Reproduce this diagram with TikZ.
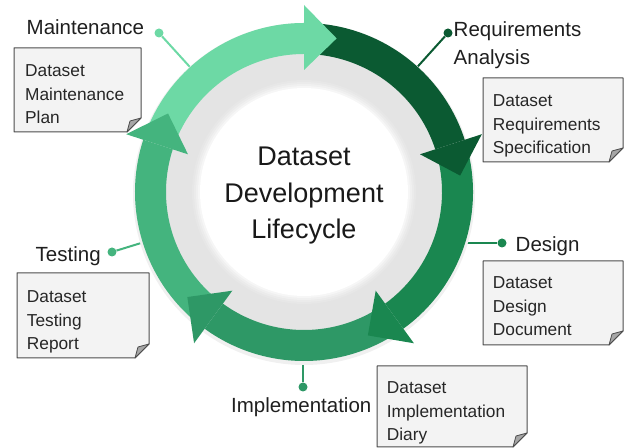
\documentclass[tikz,border=0pt]{standalone}
\usepackage{fontspec}
\setmainfont{Liberation Sans}
\usepackage{xcolor}
\usepackage{tikz}

\definecolor{maintgreen}{RGB}{109,217,165}
\definecolor{reqgreen}{RGB}{11,90,50}
\definecolor{desgreen}{RGB}{26,135,80}
\definecolor{implgreen}{RGB}{46,152,102}
\definecolor{testgreen}{RGB}{68,180,126}
\definecolor{ringgray}{RGB}{228,228,228}
\definecolor{pagegray}{RGB}{243,243,243}

\tikzset{
	dot/.style={circle,inner sep=0pt,minimum size=9bp},
	phase/.style={inner sep=0pt,align=left,text=black!88,font=\fontsize{20.5bp}{28bp}\selectfont},
	doctext/.style={inner sep=0pt,anchor=north west,align=left,text=black!85,font=\fontsize{17.3bp}{23.5bp}\selectfont},
	pagebox/.style={fill=pagegray,draw=black!70,line width=1bp,line join=round},
	pagefold/.style={fill=black!35,draw=black!70,line width=0.8bp,line join=round},
	link/.style={line width=2bp}
}

% x, top y, width, height
\newcommand{\docpage}[4]{%
	\filldraw[pagebox] (#1,#2) -- ++(#3,0) -- ++(0,-#4+14) -- ++(-14,-14) -- ++(-#3+14,0) -- cycle;
	\filldraw[pagefold] (#1+#3,#2-#4+14) -- ++(-14,-14) -- ++(3,11) -- cycle;
}

\begin{document}
\begin{tikzpicture}[x=1bp,y=1bp]
	\useasboundingbox (0,0) rectangle (624,448);
	
	\begin{scope}[shift={(304,256)}]
		\node[dot,fill=maintgreen] (mdot) at (-145,159) {};
		\node[dot,fill=reqgreen] (rdot) at (144,159) {};
		\node[dot,fill=desgreen] (ddot) at (198,-51) {};
		\node[dot,fill=implgreen] (idot) at (-1,-195) {};
		\node[dot,fill=testgreen] (tdot) at (-192,-60) {};
		\coordinate (mring) at (132.4:160);
		\coordinate (rring) at (47.8:160);
		\coordinate (dring) at (150,-51);
		\coordinate (iring) at (-1,-160);
		\coordinate (tring) at (197.4:160);
		\draw[link,maintgreen] (mring) -- (mdot);
		\draw[link,reqgreen] (rring) -- (rdot);
		\draw[link,desgreen] (dring) -- (ddot);
		\draw[link,implgreen] (iring) -- (idot);
		\draw[link,testgreen] (tring) -- (tdot);
		
		\fill[black!6] (0,-2) circle (171);
		\fill[ringgray] (0,0) circle (139);
		\foreach \r/\p in {112/90,110/75,108/55,106/35}
			\fill[ringgray!\p!white] (0,0) circle (\r);
		\fill[white] (0,0) circle (104);
		
		\foreach \b/\col [evaluate=\b as \s using \b+66] in {90/maintgreen,18/reqgreen,-54/desgreen,-126/implgreen,-198/testgreen}
			\fill[\col] (\s:169) arc[start angle=\s,end angle=\b,radius=169] -- (\b:138) arc[start angle=\b,end angle=\s,radius=138] -- cycle;
		\foreach \b/\col [evaluate=\b as \t using \b-12] in {90/maintgreen,18/reqgreen,-54/desgreen,-126/implgreen,-198/testgreen}
			\fill[\col] (\b:122) -- (\b:187) -- (\t:157) -- cycle;
		
		\node[align=center,text=black!90,font=\fontsize{27bp}{36.5bp}\selectfont] (title) at (0,-4) {Dataset\\Development\\Lifecycle};
	\end{scope}
	
	\node[phase,anchor=base west] (mlabel) at (26.5,413) {Maintenance};
	\node[phase,anchor=north west] (rlabel) at (453.5,427) {Requirements\\Analysis};
	\node[phase,anchor=base west] (dlabel) at (515.5,196) {Design};
	\node[phase,anchor=base west] (ilabel) at (231,35) {Implementation};
	\node[phase,anchor=base west] (tlabel) at (35.5,186) {Testing};
	
	\docpage{14}{400}{127}{84}
	\node[doctext] (mdoc) at (25,383.4) {Dataset\\Maintenance\\Plan};
	\docpage{483}{370}{140}{84}
	\node[doctext] (rdoc) at (492.7,353.4) {Dataset\\Requirements\\Specification};
	\docpage{483}{187}{140}{84}
	\node[doctext] (ddoc) at (492.7,171.4) {Dataset\\Design\\Document};
	\docpage{377}{82}{150}{81}
	\node[doctext] (idoc) at (386.7,66.4) {Dataset\\Implementation\\Diary};
	\docpage{17}{175}{132}{85}
	\node[doctext] (tdoc) at (26.7,157.4) {Dataset\\Testing\\Report};
\end{tikzpicture}
\end{document}
